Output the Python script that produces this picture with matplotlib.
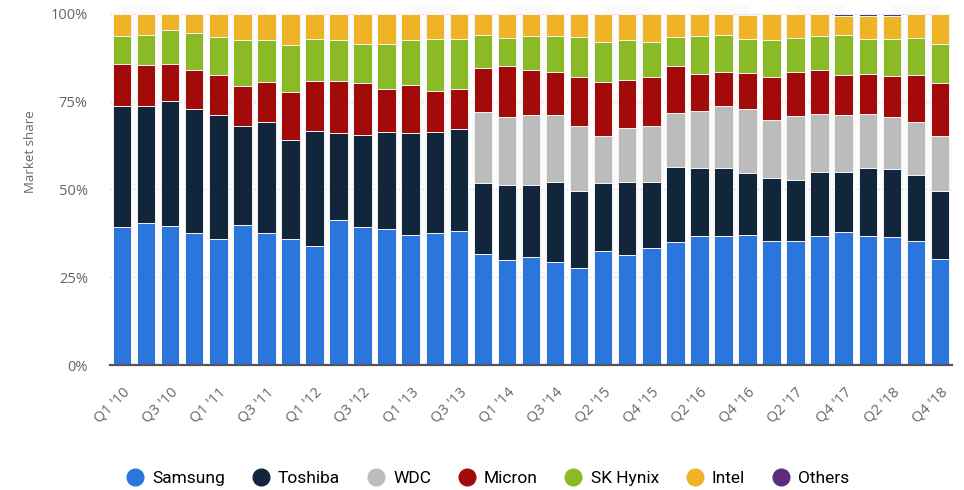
import numpy as np
import matplotlib.pyplot as plt
from matplotlib.lines import Line2D

quarters = ["Q1 '10", "Q2 '10", "Q3 '10", "Q4 '10", "Q1 '11", "Q2 '11", "Q3 '11", "Q4 '11",
            "Q1 '12", "Q2 '12", "Q3 '12", "Q4 '12", "Q1 '13", "Q2 '13", "Q3 '13", "Q4 '13",
            "Q1 '14", "Q2 '14", "Q3 '14", "Q4 '14", "Q2 '15", "Q3 '15", "Q4 '15", "Q1 '16",
            "Q2 '16", "Q3 '16", "Q4 '16", "Q1 '17", "Q2 '17", "Q3 '17", "Q4 '17", "Q1 '18",
            "Q2 '18", "Q3 '18", "Q4 '18"]

samsung = [39.2, 40.5, 39.7, 37.5, 35.9, 40.0, 37.5, 35.9, 34.0, 41.3, 39.2, 38.7, 37.1, 37.5, 38.3, 31.6,
           30.0, 30.7, 29.4, 27.6, 32.6, 31.3, 33.4, 34.9, 36.7, 36.7, 37.1, 35.4, 35.4, 36.7, 38.0, 36.8,
           36.4, 35.4, 30.2]
toshiba = [34.7, 33.2, 35.6, 35.4, 35.4, 28.0, 31.6, 28.3, 32.8, 24.7, 26.3, 27.6, 28.9, 29.0, 28.9, 20.2,
           21.3, 20.6, 22.6, 22.1, 19.2, 20.7, 18.6, 21.6, 19.4, 19.4, 17.7, 17.8, 17.3, 18.2, 17.1, 19.2,
           19.4, 18.7, 19.5]
wdc = [0, 0, 0, 0, 0, 0, 0, 0, 0, 0, 0, 0, 0, 0, 0, 20.4,
       19.3, 20.0, 19.3, 18.5, 13.5, 15.5, 16.2, 15.2, 16.4, 17.8, 18.0, 16.7, 18.1, 16.6, 16.2, 15.5,
       14.8, 15.0, 15.4]
micron = [11.9, 11.8, 10.5, 11.0, 11.3, 11.4, 11.4, 13.5, 14.2, 15.0, 14.7, 12.3, 13.8, 11.7, 11.4, 12.4,
          14.5, 12.6, 12.3, 13.8, 15.2, 13.8, 13.8, 13.4, 10.4, 9.7, 10.4, 12.1, 12.6, 12.4, 11.3, 11.4,
          11.6, 13.5, 15.2]
sk_hynix = [7.8, 8.5, 9.5, 10.6, 10.9, 13.1, 12.0, 13.5, 11.9, 11.5, 11.3, 12.9, 12.7, 14.7, 14.3, 9.5,
            8.1, 9.7, 10.0, 11.4, 11.4, 11.2, 10.0, 8.3, 10.7, 10.4, 9.8, 10.7, 9.8, 9.7, 11.4, 10.0,
            10.7, 10.6, 11.2]
intel = [6.4, 6.0, 4.7, 5.5, 6.5, 7.5, 7.5, 8.8, 7.1, 7.5, 8.5, 8.5, 7.5, 7.1, 7.1, 5.9,
         6.8, 6.4, 6.4, 6.6, 8.1, 7.5, 8.1, 6.6, 6.4, 6.0, 6.8, 7.3, 6.8, 6.4, 5.3, 6.6,
         6.6, 6.8, 8.5]
others = [0] * 30 + [0.7, 0.5, 0.5, 0, 0]

series = [("Samsung", samsung, "#2a76dd"),
          ("Toshiba", toshiba, "#12263b"),
          ("WDC", wdc, "#bcbcbc"),
          ("Micron", micron, "#a30b0b"),
          ("SK Hynix", sk_hynix, "#8abb26"),
          ("Intel", intel, "#eeb425"),
          ("Others", others, "#5c2d7d")]

fig = plt.figure(figsize=(9.64, 4.90), dpi=100)
ax = fig.add_axes([110 / 964, 125 / 490, 842 / 964, 360 / 490])

x = np.arange(len(quarters))

# very faint alternating bands behind the bars
for s in range(0, len(quarters), 4):
    ax.axvspan(s, s + 2, color="#fafafa", zorder=0, lw=0)

bottom = np.zeros(len(quarters))
for name, vals, col in series:
    vals = np.array(vals, dtype=float)
    ax.bar(x, vals, 0.77, bottom=bottom, color=col, edgecolor="#f4f4f4",
           linewidth=0.7, zorder=3)
    bottom += vals

ax.set_xlim(-0.5, len(quarters) - 0.5)
ax.set_ylim(0, 102.56)
ax.set_yticks([0, 25, 50, 75, 100])
ax.set_yticklabels(["0%", "25%", "50%", "75%", "100%"], family="Open Sans", fontsize=10.5, color="#666666")
ax.yaxis.grid(True, linestyle=":", color="#cccccc", linewidth=0.8, zorder=1)
ax.tick_params(axis="y", length=0, pad=16)

ax.set_xticks(x[::2])
ax.set_xticklabels(quarters[::2], rotation=45, ha="right", rotation_mode="anchor",
                   family="Open Sans", fontsize=10.5, color="#666666")
ax.tick_params(axis="x", length=0, pad=14)

for sp in ["top", "right", "left"]:
    ax.spines[sp].set_visible(False)
ax.spines["bottom"].set_color("#555555")
ax.spines["bottom"].set_linewidth(1.6)
ax.spines["bottom"].set_zorder(5)

fig.text(30 / 964, 1 - 152 / 490, "Market share", rotation=90, ha="center", va="center",
         family="Open Sans", fontsize=9.5, color="#666666")

handles = [Line2D([], [], marker="o", linestyle="", markersize=12, markerfacecolor=c,
                  markeredgecolor=c) for _, _, c in series]
fig.legend(handles, [n for n, _, _ in series], loc="center", bbox_to_anchor=(486 / 964, 12 / 490),
           ncol=7, frameon=False, handletextpad=0.3, columnspacing=1.35, handlelength=1.4,
           prop={"family": "Roboto", "size": 12.5})

fig.savefig("out.png", dpi=100)
